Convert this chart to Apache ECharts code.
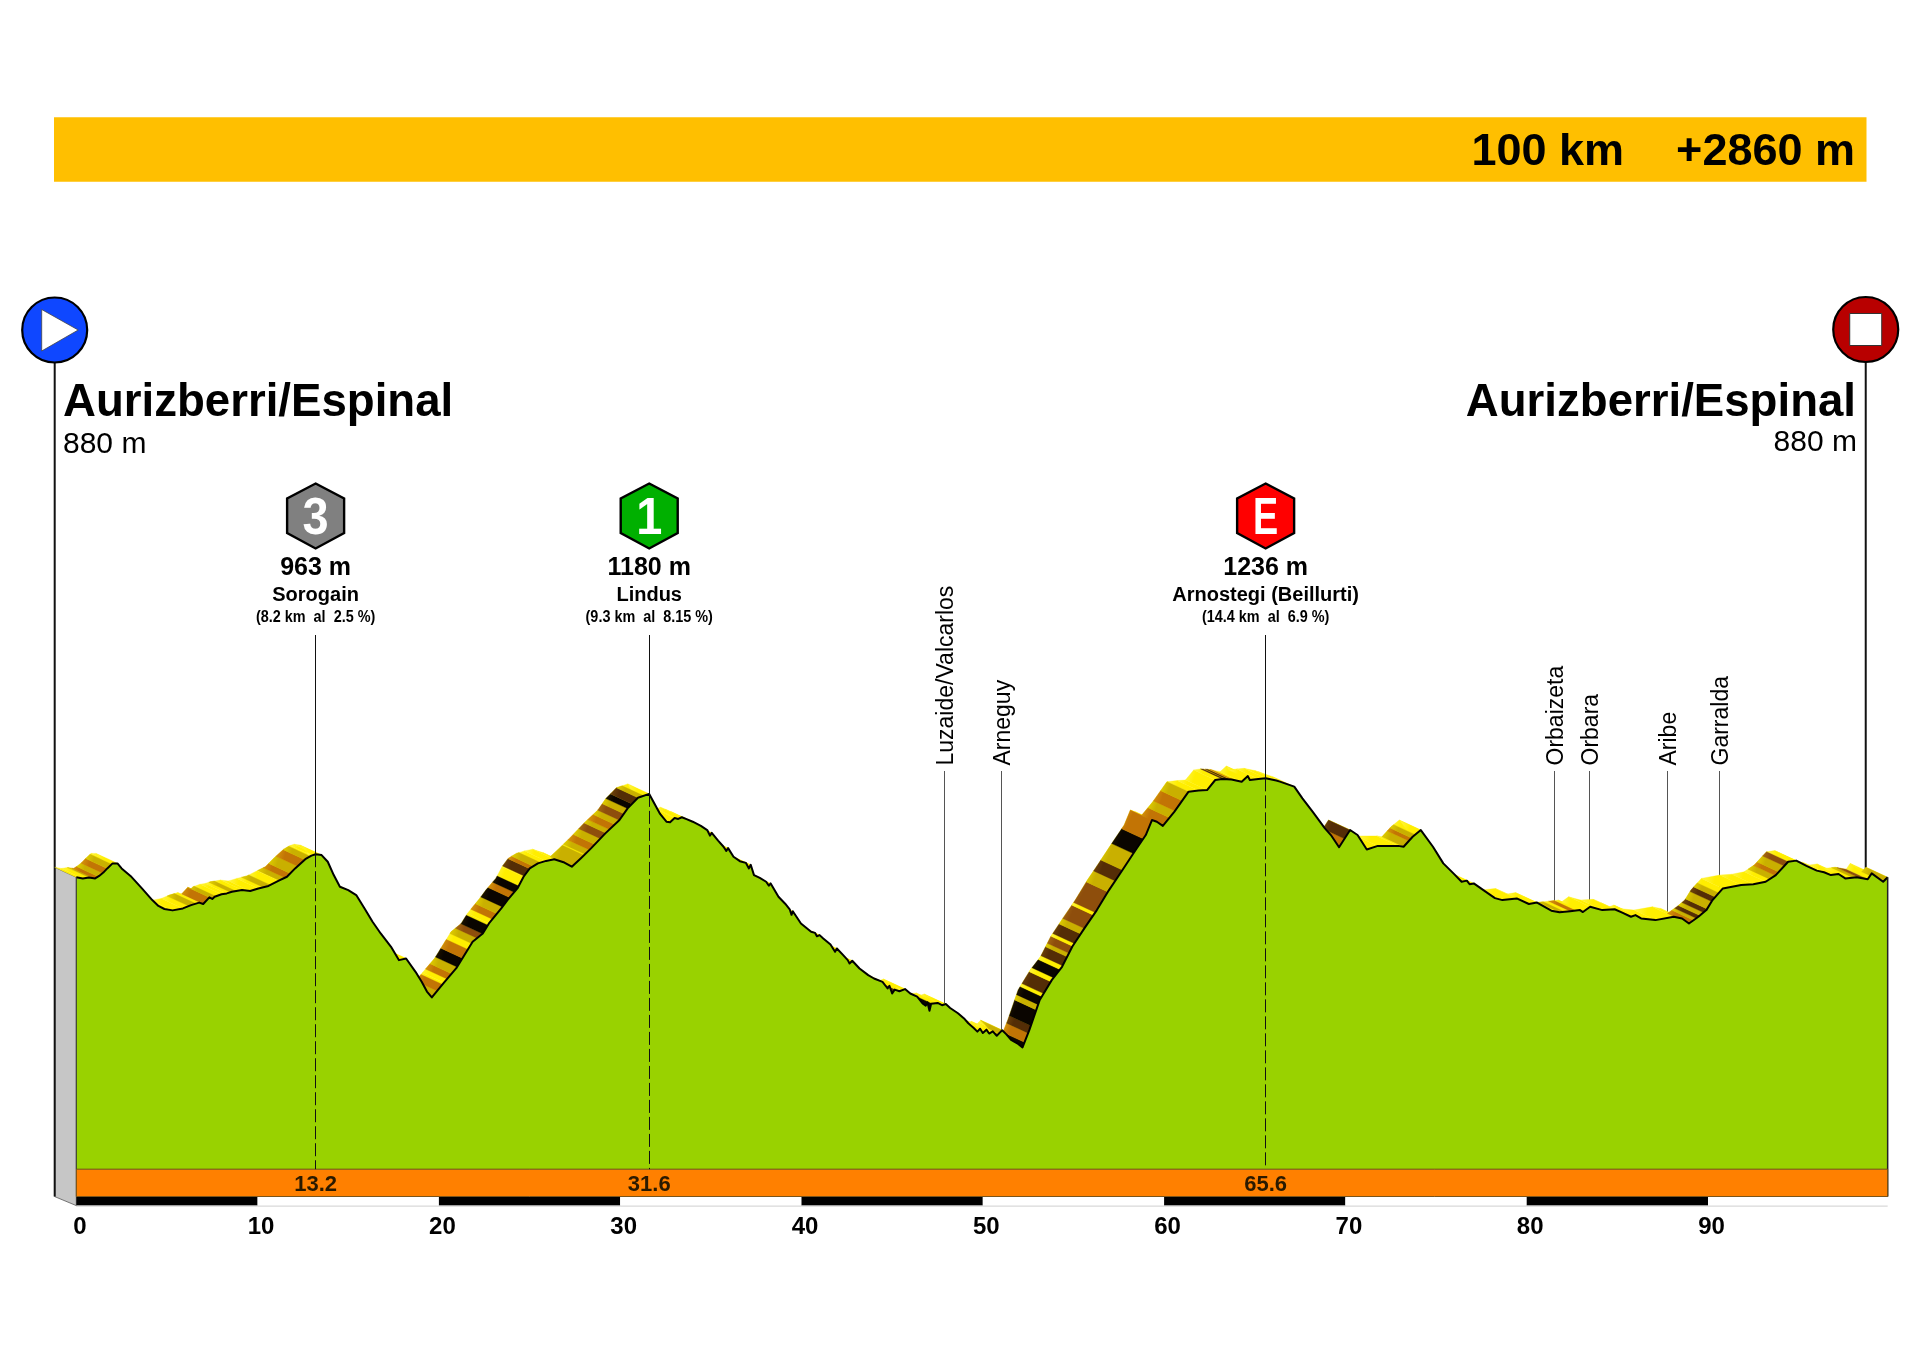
<!DOCTYPE html>
<html><head><meta charset="utf-8">
<style>html,body{margin:0;padding:0;background:#fff}#c{width:1920px;height:1357px}</style>
<script src="https://cdn.jsdelivr.net/npm/echarts@6/dist/echarts.min.js"></script>
</head><body><div id="c"></div>
<script>
// [km, elevation in m]
const profile = [
[0,880],[0.36,876],[0.7,879],[1.04,876],[1.26,885],[1.49,897],[1.71,912],[2,930],[2.27,930],[2.5,912],[2.99,885],[3.62,840],[4.19,798],[4.53,777],[4.86,766],[5.31,761],[5.88,768],[6.33,780],[6.78,789],[7,784],[7.34,808],[7.5,802],[7.63,810],[8.01,819],[8.3,822],[8.58,828],[9.14,834],[9.59,831],[10.04,840],[10.6,849],[11.17,868],[11.62,882],[12.07,912],[12.63,945],[12.97,958],[13.2,963],[13.53,960],[13.87,936],[14.2,888],[14.54,846],[15,834],[15.44,816],[15.9,768],[16.34,720],[16.79,678],[17.36,630],[17.8,582],[18.19,588],[18.71,540],[19.05,504],[19.34,469],[19.61,448],[19.95,475],[20.28,501],[20.96,553],[21.52,612],[21.86,648],[22.42,678],[22.76,714],[23.44,768],[23.78,798],[24.33,840],[24.67,882],[25.01,912],[25.46,930],[25.91,939],[26.36,945],[26.92,933],[27.33,918],[27.82,948],[28.39,984],[29.18,1038],[29.96,1086],[30.41,1128],[30.98,1166],[31.6,1180],
[32.2,1108],[32.55,1080],[32.75,1078],[33,1093],[33.2,1090],[33.4,1096],[33.66,1089],[34,1080],[34.45,1065],[34.8,1050],[34.95,1030],[35.05,1040],[35.4,1012],[35.7,990],[35.85,975],[35.95,985],[36.25,954],[36.6,938],[36.93,932],[37.1,912],[37.2,925],[37.38,888],[37.7,878],[38.05,864],[38.2,850],[38.3,858],[38.73,810],[39.1,785],[39.35,765],[39.45,745],[39.52,758],[39.97,714],[40.53,684],[40.75,680],[40.85,668],[41,672],[41.2,660],[41.6,638],[41.85,612],[41.95,624],[42.3,600],[42.55,582],[42.65,570],[42.8,580],[43.2,552],[43.68,528],[44,516],[44.47,504],[44.75,480],[44.85,490],[45,462],[45.14,476],[45.4,470],[45.71,478],[46,462],[46.38,451],[46.7,425],[46.85,418],[46.95,430],[47.06,400],[47.15,425],[47.51,428],[47.75,420],[47.96,424],[48.2,410],[48.63,391],[49,370],[49.2,355],[49.5,338],[49.7,325],[49.85,335],[50,320],[50.2,332],[50.35,318],[50.55,326],[50.77,310],[50.95,322],[51.07,330],[51.3,315],[51.56,295],[51.9,283],[52.19,268],
[52.57,331],[53.14,439],[53.81,511],[54.37,558],[54.94,631],[55.61,697],[56.29,762],[56.96,834],[57.64,900],[58.43,978],[58.99,1032],[59.33,1086],[59.6,1080],[59.93,1065],[60.57,1116],[61.35,1188],[61.9,1192],[62.37,1194],[62.82,1230],[63.2,1234],[63.72,1232],[64.28,1224],[64.62,1244],[64.73,1230],[65.2,1234],[65.6,1236],[66.19,1228],[66.39,1224],[67.18,1206],[67.63,1164],[68.19,1116],[68.87,1056],[69.2,1032],[69.65,988],[70.26,1050],[70.67,1032],[71.18,980],[71.79,993],[72.92,993],[73.21,990],[73.71,1026],[74.16,1050],[74.83,990],[75.4,930],[75.96,894],[76.41,864],[76.7,868],[76.85,855],[77.08,858],[77.87,822],[78.25,805],[78.66,798],[79.45,804],[80.12,784],[80.57,789],[81.36,760],[81.81,754],[82.4,758],[82.94,762],[83.1,755],[83.5,774],[84.17,762],[84.85,765],[85.3,752],[85.75,738],[86.0,744],[86.31,732],[87.1,726],[88.11,738],[88.57,732],[88.95,714],[89.47,738],[89.91,762],[90.25,798],[90.82,840],[91.83,852],[92.5,855],[93.18,864],[93.74,888],[94.42,936],[94.87,940],[95.43,921],[96,904],[96.4,898],[96.78,888],[97.2,892],[97.57,876],[98.2,880],[98.81,873],[99.03,894],[99.66,864],[99.91,880]
];
// ribbon stripes: km from, km to, shade (Y yellow, L olive, O orange, D dark orange, B brown, K black)
const stripes = [
[0.7,0.95,'L'],[0.95,1.2,'O'],[1.2,1.45,'L'],[1.45,1.7,'O'],[1.7,1.95,'L'],
[6.2,6.6,'L'],[7,7.35,'O'],[7.35,7.7,'L'],[8.5,8.8,'L'],[10.3,10.7,'L'],[11.2,11.5,'L'],[11.5,11.8,'O'],[11.8,12.2,'L'],[12.2,12.6,'O'],[12.6,12.9,'L'],
[19.61,19.9,'L'],[19.9,20.2,'O'],[20.45,20.7,'O'],[20.7,21,'L'],[21,21.3,'K'],[21.3,21.6,'O'],[21.8,22.1,'L'],[22.1,22.4,'D'],[22.4,22.7,'K'],[22.95,23.2,'O'],[23.2,23.5,'L'],[23.5,23.9,'K'],[23.9,24.15,'O'],[24.15,24.4,'K'],[24.7,25,'B'],[25,25.2,'O'],[25.2,25.6,'L'],
[27.33,28,'L'],[28.05,28.3,'L'],[28.3,28.6,'O'],[28.6,28.9,'L'],[28.9,29.2,'D'],[29.2,29.4,'L'],[29.4,29.7,'O'],[29.7,29.95,'L'],[29.95,30.2,'D'],[30.2,30.4,'L'],[30.4,30.65,'K'],[30.65,30.98,'B'],[30.98,31.3,'L'],
[44.7,45.2,'B'],[46.6,47.2,'K'],
[51.07,51.5,'L'],[51.9,52.19,'B'],[52.19,52.3,'K'],[52.3,52.5,'O'],[52.5,52.65,'B'],[52.65,52.95,'K'],[52.95,53.05,'L'],[53.05,53.25,'K'],[53.25,53.35,'Y'],[53.35,53.75,'B'],[53.75,53.9,'Y'],[53.9,54.25,'K'],[54.25,54.4,'Y'],[54.4,54.65,'B'],[54.65,54.75,'L'],[54.75,54.95,'D'],[54.95,55.05,'Y'],[55.05,55.4,'B'],[55.4,55.6,'L'],[55.6,56.1,'D'],[56.1,56.2,'Y'],[56.2,56.9,'D'],[56.9,57.3,'L'],[57.3,57.7,'B'],[57.7,58.3,'L'],[58.3,58.85,'K'],[58.85,59.33,'O'],
[59.93,60.3,'O'],[60.3,60.6,'L'],[60.6,61,'O'],[61,61.35,'L'],[63.2,63.35,'B'],[63.45,63.6,'B'],[63.7,63.85,'O'],
[69.65,69.95,'O'],[69.95,70.26,'B'],[73.21,73.5,'L'],[73.5,73.65,'O'],[73.65,73.85,'L'],
[81.8,82.1,'L'],[82.4,82.7,'O'],[88.95,89.2,'O'],[89.2,89.35,'L'],[89.35,89.55,'B'],[89.55,89.75,'L'],[89.75,89.95,'B'],[89.95,90.2,'L'],[90.2,90.4,'B'],[90.4,90.6,'L'],
[93.4,93.7,'L'],[93.7,93.9,'O'],[93.9,94.2,'L'],[94.2,94.42,'D'],[98.0,98.3,'L'],[98.3,98.8,'D'],[99.66,99.91,'L']
];
const kmTicks = [0,10,20,30,40,50,60,70,80,90];
const kmBandStart = [0,10,20,30,40,50,60,70,80,90];
const kmBandEnd = [10,20,30,40,50,60,70,80,90,99.91];
const climbKm = [13.2,31.6,65.6];
const climbElev = [963,1180,1236];
const climbCat = ['3','1','E'];
const climbName = ['Sorogain','Lindus','Arnostegi (Beillurti)'];
const climbDetail = ['(8.2 km  al  2.5 %)','(9.3 km  al  8.15 %)','(14.4 km  al  6.9 %)'];
const climbColor = ['#808080','#00B000','#FF0000'];
const climbCatWidth = [0.92,0.92,0.74];
const townKm = [47.88,51.04,81.55,83.46,87.76,90.66];
const townName = ['Luzaide/Valcarlos','Arneguy','Orbaizeta','Orbara','Aribe','Garralda'];
const startName = 'Aurizberri/Espinal', finishName = 'Aurizberri/Espinal';
const startElev = '880 m', finishElev = '880 m';
const totals = ['100 km','+2860 m'];

const shades = {Y:'#FFEE00',L:'#C9B000',O:'#C27405',D:'#8E4E0C',B:'#542D06',K:'#0A0500'};
const lights = {Y:'#FFF64A',L:'#E4D200',O:'#D89A0C',D:'#A86E14',B:'#74480C',K:'#241800'};
const DX=-21.6, DY=-10;
const F='"Liberation Sans", Arial, sans-serif';

function elevAt(km){
  for(let i=1;i<profile.length;i++){
    if(km<=profile[i][0]){
      const a=profile[i-1],b=profile[i];
      return a[1]+(b[1]-a[1])*(km-a[0])/(b[0]-a[0]);
    }
  }
  return profile[profile.length-1][1];
}
function grad(k){
  return new echarts.graphic.LinearGradient(0,0,1,0.5,[{offset:0,color:lights[k]},{offset:0.35,color:shades[k]},{offset:1,color:shades[k]}]);
}
function quad(pts,k){
  const back=pts.map(p=>[p[0]+DX,p[1]+DY]).reverse();
  return {type:'polygon',shape:{points:pts.concat(back)},style:{fill:grad(k),stroke:shades[k],lineWidth:0.3}};
}
function crisp(v){return Math.floor(v)+0.5;}
const baseElev=-170;

const option={
  animation:false,
  backgroundColor:'#fff',
  grid:{left:76.3,top:599.3,width:1813,height:569.9,containLabel:false},
  xAxis:{type:'value',min:0,max:100,interval:10,
    axisLine:{show:false},axisTick:{show:false},splitLine:{show:false},
    axisLabel:{show:true,margin:46,color:'#000',
      fontFamily:F,fontWeight:'bold',fontSize:24,padding:[0,0,0,7],
      customValues:kmTicks,formatter:v=>String(v)}},
  yAxis:{type:'value',min:baseElev,max:1880,show:false,splitLine:{show:false}},
  graphic:[
    {type:'rect',z:1,shape:{x:54,y:117.3,width:1812.5,height:64.4},style:{fill:'#FFBF00'}},
    {type:'text',z:2,style:{text:totals[0],x:1624,y:153,align:'right',verticalAlign:'middle',font:'bold 45px '+F,fill:'#000'}},
    {type:'text',z:2,style:{text:totals[1],x:1855,y:153,align:'right',verticalAlign:'middle',font:'bold 45px '+F,fill:'#000'}},
    {type:'text',z:2,style:{text:startName,x:63,y:403,align:'left',verticalAlign:'middle',font:'bold 45.6px '+F,fill:'#000'}},
    {type:'text',z:2,style:{text:startElev,x:63,y:445,align:'left',verticalAlign:'middle',font:'30px '+F,fill:'#000'}},
    {type:'text',z:2,style:{text:finishName,x:1856,y:403,align:'right',verticalAlign:'middle',font:'bold 45.6px '+F,fill:'#000'}},
    {type:'text',z:2,style:{text:finishElev,x:1857,y:443,align:'right',verticalAlign:'middle',font:'30px '+F,fill:'#000'}}
  ],
  series:[
    // town lines and labels (behind ribbon)
    {type:'custom',z:1,silent:true,clip:false,coordinateSystem:'cartesian2d',
     data:townKm.map((k,i)=>[k,elevAt(k)]),
     renderItem:(p,api)=>{
       const c=api.coord([api.value(0),api.value(1)]);
       const x=crisp(c[0]);
       return {type:'group',children:[
         {type:'line',shape:{x1:x,y1:771,x2:x,y2:c[1]},style:{stroke:'#555',lineWidth:1}},
         {type:'text',x:x+2,y:765.5,rotation:Math.PI/2,style:{text:townName[p.dataIndex],x:0,y:0,align:'left',verticalAlign:'middle',font:'23px '+F,fill:'#000'}}
       ]};
     }},
    // finish marker
    {type:'custom',z:1,silent:true,clip:false,coordinateSystem:'cartesian2d',
     data:[[98.7,elevAt(98.7)]],
     renderItem:(p,api)=>{
       const c=api.coord([api.value(0),api.value(1)]);
       const x=c[0],y0=329.5;
       return {type:'group',children:[
         {type:'line',shape:{x1:x,y1:y0,x2:x,y2:c[1]},style:{stroke:'#111',lineWidth:2}},
         {type:'circle',shape:{cx:x,cy:y0,r:32.5},style:{fill:'#B80000',stroke:'#000',lineWidth:2.2}},
         {type:'rect',shape:{x:x-16,y:y0-16,width:32,height:32},style:{fill:'#fff',stroke:'#333',lineWidth:1}}
       ]};
     }},
    // left end face + start marker
    {type:'custom',z:1,silent:true,clip:false,coordinateSystem:'cartesian2d',
     data:[[0,880]],
     renderItem:(p,api)=>{
       const c=api.coord([0,880]),b=api.coord([0,baseElev]);
       const x=c[0],y=c[1],yb=b[1];
       return {type:'group',children:[
         {type:'polygon',shape:{points:[[x+DX,y+DY],[x,y],[x,yb+36.4],[x+DX,yb+27.4]]},style:{fill:'#C6C6C6',stroke:'#555',lineWidth:0.8}},
         {type:'line',shape:{x1:x+DX,y1:330,x2:x+DX,y2:yb+27.4},style:{stroke:'#111',lineWidth:2}},
         {type:'circle',shape:{cx:x+DX,cy:330,r:32.5},style:{fill:'#0F47FF',stroke:'#000',lineWidth:2.2}},
         {type:'polygon',shape:{points:[[x+DX-13,309.5],[x+DX-13,351],[x+DX+23.5,330]]},style:{fill:'#fff',stroke:'#444',lineWidth:0.8}}
       ]};
     }},
    // base ribbon, one quad per profile segment
    {type:'custom',z:2,silent:true,clip:false,coordinateSystem:'cartesian2d',
     data:profile.slice(1).map((q,i)=>[profile[i][0],profile[i][1],q[0],q[1]]),
     renderItem:(p,api)=>quad([api.coord([api.value(0),api.value(1)]),api.coord([api.value(2),api.value(3)])],'Y')},
    // coloured stripes
    {type:'custom',z:2,silent:true,clip:false,coordinateSystem:'cartesian2d',
     data:stripes.map(s=>[s[0],s[1]]),
     renderItem:(p,api)=>{
       const s=stripes[p.dataIndex];
       const kms=[s[0]];
       profile.forEach(q=>{if(q[0]>s[0]&&q[0]<s[1])kms.push(q[0]);});
       kms.push(s[1]);
       return quad(kms.map(k=>api.coord([k,elevAt(k)])),s[2]);
     }},
    // the profile itself
    {type:'line',z:3,silent:true,symbol:'none',smooth:false,data:profile,clip:false,
     lineStyle:{color:'#000',width:2,join:'round'},
     areaStyle:{color:'#99D200',opacity:1,origin:'start'}},
    // right edge
    {type:'custom',z:4,silent:true,clip:false,coordinateSystem:'cartesian2d',
     data:[[99.91,880]],
     renderItem:(p,api)=>{
       const c=api.coord([api.value(0),api.value(1)]),b=api.coord([api.value(0),baseElev]),o=api.coord([0,880]);
       return {type:'group',children:[
         {type:'line',shape:{x1:c[0],y1:c[1],x2:b[0],y2:b[1]+27.4},style:{stroke:'#222',lineWidth:1.5}},
         {type:'line',shape:{x1:o[0],y1:o[1],x2:o[0],y2:b[1]},style:{stroke:'#333',lineWidth:1}}
       ]};
     }},
    // orange band
    {type:'custom',z:4,silent:true,clip:false,coordinateSystem:'cartesian2d',
     data:[[0,99.91]],
     renderItem:(p,api)=>{
       const a=api.coord([api.value(0),baseElev]),b=api.coord([api.value(1),baseElev]);
       return {type:'rect',shape:{x:a[0],y:a[1],width:b[0]-a[0],height:27.4},style:{fill:'#FF8000',stroke:'#6E4A10',lineWidth:1}};
     }},
    // km bands
    {type:'custom',z:4,silent:true,clip:false,coordinateSystem:'cartesian2d',
     data:kmBandStart.map((s,i)=>[s,kmBandEnd[i]]),
     renderItem:(p,api)=>{
       const a=api.coord([api.value(0),baseElev]),b=api.coord([api.value(1),baseElev]);
       const dark=p.dataIndex%2===0;
       return {type:'group',children:[
         {type:'rect',shape:{x:a[0],y:a[1]+27.9,width:b[0]-a[0],height:8.5},style:{fill:dark?'#000':'#fff'}},
         {type:'line',shape:{x1:a[0],y1:a[1]+36.9,x2:b[0],y2:a[1]+36.9},style:{stroke:'#CFCFCF',lineWidth:1}}
       ]};
     }},
    // climbs
    {type:'custom',z:5,silent:true,clip:false,coordinateSystem:'cartesian2d',
     data:climbKm.map((k,i)=>[k,climbElev[i]]),
     renderItem:(p,api)=>{
       const i=p.dataIndex,c=api.coord([api.value(0),elevAt(api.value(0))]),b=api.coord([api.value(0),baseElev]);
       const x=c[0],lx=crisp(x);
       return {type:'group',children:[
         {type:'line',shape:{x1:lx,y1:635,x2:lx,y2:c[1]},style:{stroke:'#111',lineWidth:1}},
         {type:'line',shape:{x1:lx,y1:c[1],x2:lx,y2:b[1]},style:{stroke:'#111',lineWidth:1,lineDash:[13,4]}},
         {type:'polygon',shape:{points:[[x,483.5],[x+28.5,498.5],[x+28.5,533],[x,548.5],[x-28.5,533],[x-28.5,498.5]]},style:{fill:climbColor[i],stroke:'#000',lineWidth:2.4}},
         {type:'text',x:x,y:520,scaleX:climbCatWidth[i],style:{text:climbCat[i],x:0,y:0,align:'center',verticalAlign:'middle',font:'bold 51px '+F,fill:'#fff'}},
         {type:'text',style:{text:climbElev[i]+' m',x:x,y:568,align:'center',verticalAlign:'middle',font:'bold 25px '+F,fill:'#000'}},
         {type:'text',style:{text:climbName[i],x:x,y:595.5,align:'center',verticalAlign:'middle',font:'bold 20px '+F,fill:'#000'}},
         {type:'text',x:x,y:617.5,scaleX:0.9,style:{text:climbDetail[i],x:0,y:0,align:'center',verticalAlign:'middle',font:'bold 16px '+F,fill:'#000'}},
         {type:'text',style:{text:String(api.value(0)),x:x,y:b[1]+15.5,align:'center',verticalAlign:'middle',font:'bold 22px '+F,fill:'#2A1A00'}}
       ]};
     }}
  ]
};
const chart=echarts.init(document.getElementById('c'),null,{renderer:'canvas',width:1920,height:1357});
chart.setOption(option);
</script></body></html>
